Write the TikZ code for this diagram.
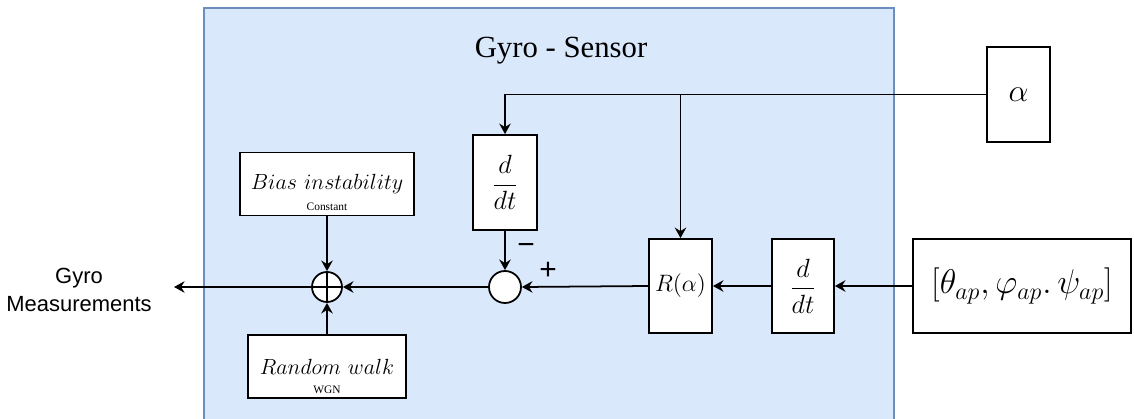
\RequirePackage{fix-cm}
\documentclass[tikz,border=0pt]{standalone}
\usepackage{fontspec}
\newfontfamily\titlefont{Liberation Serif}
\newfontfamily\labelfont{Liberation Sans}
\usetikzlibrary{arrows.meta,positioning}
\definecolor{panelblue}{HTML}{DAE8FC}
\definecolor{panelline}{HTML}{6C8EBF}

\begin{document}
\begin{tikzpicture}[
  x=0.02cm, y=-0.02cm,
  font=\fontsize{12.5}{15}\selectfont,
  blk/.style={draw, line width=1pt, fill=white, rectangle, inner sep=1pt},
  sumn/.style={draw, line width=1pt, fill=white, circle, inner sep=0pt, minimum size=6mm},
  note/.style={font=\titlefont\fontsize{6.5}{7}\selectfont, inner sep=0pt},
  sign/.style={font=\labelfont\fontsize{17}{18}\selectfont, inner sep=0pt},
  conn/.style={-{Stealth[length=6pt, width=6.5pt, inset=2pt]}, line width=1pt},
  wire/.style={-, line width=1pt}
]
\useasboundingbox (0,0) rectangle (1134,419);

% --- panel -----------------------------------------------------------------
\fill[panelblue] (204,8) rectangle (894,419);
\draw[panelline, line width=1pt] (204,419) |- (894,8) -- (894,419);
\node[font=\titlefont\fontsize{17.5}{20}\selectfont] (title) at (561,51) {Gyro - Sensor};

% --- blocks ----------------------------------------------------------------
\node[blk, minimum width=3.48cm, minimum height=1.26cm] (bias) at (327,184) {$Bias\ instability$};
\node[note, above=3pt of bias.south] (biasnote) {Constant};

\node[blk, minimum width=3.16cm, minimum height=1.26cm] (walk) at (327,366.5) {$Random\ walk$};
\node[note, above=3pt of walk.south] (walknote) {WGN};

\node[sumn] (sum) at (327,287) {};
\node[sumn, minimum size=6.4mm] (junc) at (505,287) {};

\node[blk, minimum width=1.28cm, minimum height=1.9cm, font=\fontsize{15}{17}\selectfont]
  (ddta) at (505,182.5) {$\displaystyle\frac{d}{dt}$};
\node[blk, minimum width=1.26cm, minimum height=1.88cm, font=\fontsize{13.5}{15}\selectfont]
  (rot) at (680.5,286) {$R(\alpha)$};
\node[blk, minimum width=1.24cm, minimum height=1.88cm, font=\fontsize{15}{17}\selectfont]
  (ddtb) at (803,286) {$\displaystyle\frac{d}{dt}$};
\node[blk, minimum width=4.36cm, minimum height=1.88cm, font=\fontsize{19.5}{22}\selectfont]
  (angles) at (1022,286) {$[\theta_{ap}, \varphi_{ap}.\,\psi_{ap}]$};
\node[blk, minimum width=1.26cm, minimum height=1.9cm, font=\fontsize{18}{20}\selectfont]
  (alpha) at (1018.5,94.5) {$\alpha$};

\node[font=\labelfont\fontsize{12.5}{16}\selectfont, align=center] (meas) at (79,290) {Gyro\\Measurements};
\coordinate (outtip) at (174,287);

\node[sign] (minus) at (526,249) {−};
\node[sign] (plus) at (548,271) {+};

% --- edges -----------------------------------------------------------------
\draw[wire] (sum.north) -- (sum.south);
\draw[wire] (sum.west) -- (sum.east);
\foreach \a/\b in {angles/ddtb, ddtb/rot, rot/junc, junc/sum} \draw[conn] (\a.west) -- (\b.east);
\draw[conn] (sum.west) -- (outtip);
\draw[conn] (bias) -- (sum);
\draw[conn] (walk) -- (sum);
\draw[conn] (ddta) -- (junc);
\draw[conn] (alpha.west) -| (ddta.north);
\coordinate (tap) at (rot.north |- alpha.west);
\draw[conn] (tap) -- (rot.north);
\end{tikzpicture}
\end{document}
